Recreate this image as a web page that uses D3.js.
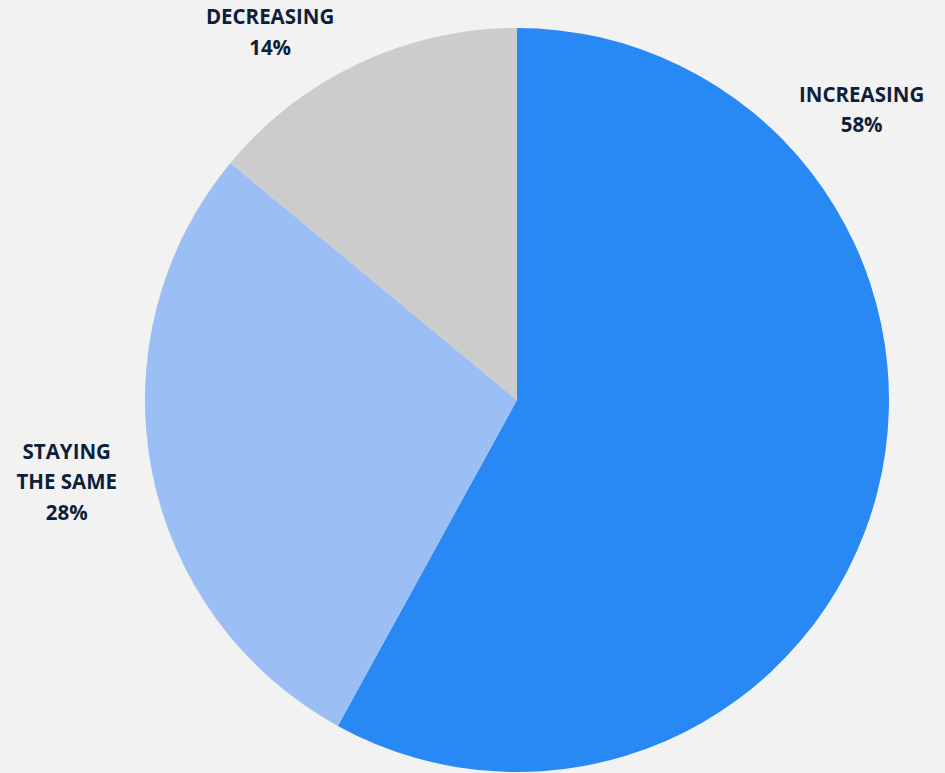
<!DOCTYPE html>
<html>
<head>
<meta charset="utf-8">
<script src="https://cdn.jsdelivr.net/npm/d3@7"></script>
<style>
  html, body { margin: 0; padding: 0; background: #f2f2f2; }
  svg { display: block; }
</style>
</head>
<body>
<div id="chart"></div>
<script>
// data
var categories = ["INCREASING", "STAYING THE SAME", "DECREASING"];
var labelLines = [["INCREASING"], ["STAYING", "THE SAME"], ["DECREASING"]];
var shares = [58, 28, 14];
var colors = ["#2889f5", "#9bbef4", "#cccccc"];

var width = 945, height = 773;
var cx = 517, cy = 400, radius = 372;

// where each label sits around the pie (angle from 12 o'clock, distance from centre)
var labelAngle = [50.6, 258.8, 325.6];
var labelDist = [446, 459, 437];

var svg = d3.select("#chart").append("svg")
  .attr("width", width)
  .attr("height", height);

var g = svg.append("g").attr("transform", "translate(" + cx + "," + cy + ")");

var pie = d3.pie().sort(null).value(function(d) { return d; });
var arc = d3.arc().innerRadius(0).outerRadius(radius);

var arcs = pie(shares);

g.selectAll("path")
  .data(arcs)
  .join("path")
    .attr("d", arc)
    .attr("fill", function(d, i) { return colors[i]; });

var lineH = 30.5;
var labels = g.selectAll("text.lbl")
  .data(arcs)
  .join("text")
    .attr("class", "lbl")
    .attr("text-anchor", "middle")
    .attr("font-family", "'Open Sans', 'Noto Sans', sans-serif")
    .attr("font-weight", 700)
    .attr("font-size", "20.5px")
    .attr("fill", "#0d1f3a")
    .each(function(d, i) {
      var a = labelAngle[i] * Math.PI / 180;
      var x = Math.sin(a) * labelDist[i];
      var y = -Math.cos(a) * labelDist[i];
      var lines = labelLines[i].concat([shares[i] + "%"]);
      var y0 = y - (lines.length - 1) * lineH / 2;
      var t = d3.select(this);
      lines.forEach(function(s, k) {
        t.append("tspan")
          .attr("x", x)
          .attr("y", y0 + k * lineH)
          .text(s);
      });
    });
</script>
</body>
</html>
